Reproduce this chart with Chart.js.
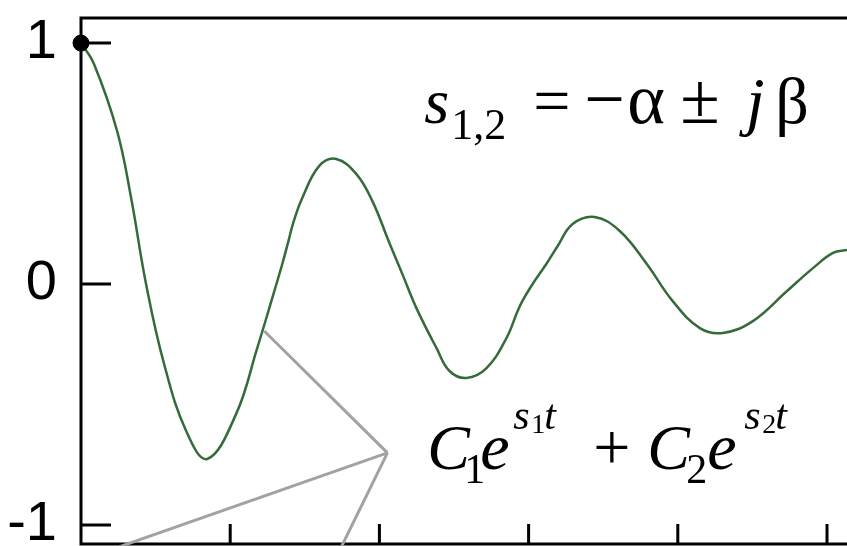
<!DOCTYPE html>
<html>
<head>
<meta charset="utf-8">
<script src="https://cdn.jsdelivr.net/npm/chart.js@4"></script>
<style>
  html, body { margin: 0; padding: 0; background: #fff; overflow: hidden; }
  canvas { display: block; }
</style>
</head>
<body>
<canvas id="c" width="847" height="546"></canvas>
<script>
// Underdamped response: one damped cosine, plus the grey leader lines
// that point from the curve to the C1e^{s1t}+C2e^{s2t} label (and on down out of frame).
const curveT = [0, 0.087, 0.242, 0.336, 0.436, 0.557, 0.705, 0.846, 1.040, 1.181, 1.262, 1.349,
  1.389, 1.423, 1.483, 1.597, 1.711, 1.846, 1.953, 2.067, 2.154, 2.248, 2.383, 2.470, 2.584, 2.718,
  2.852, 2.940, 3.027, 3.121, 3.195, 3.295, 3.443, 3.611, 3.792, 3.966, 4.148, 4.302, 4.503, 4.732,
  4.906, 5.040, 5.134];
const curveY = [1.0, 0.913, 0.635, 0.357, 0.0, -0.332, -0.610, -0.726, -0.539, -0.266, -0.100, 0.083,
  0.175, 0.255, 0.357, 0.490, 0.519, 0.456, 0.344, 0.170, 0.041, -0.100, -0.266, -0.361, -0.390, -0.349,
  -0.224, -0.093, 0.0, 0.085, 0.158, 0.249, 0.278, 0.220, 0.083, -0.071, -0.183, -0.203, -0.154, -0.029,
  0.066, 0.129, 0.141];

const yTicks = [-1, 0, 1];
const xTicks = [1, 2, 3, 4, 5];

// leader lines, each a pair of (t, y) ends
const leaderT = [[1.228, 2.054], [2.054, 0.255], [2.054, 1.745]];
const leaderY = [[-0.195, -0.701], [-0.701, -1.091], [-0.701, -1.091]];

const startPoint = { x: 0, y: 1 };

// annotation anchors in data space (left end of the text, on its baseline)
const rootsAt = { x: 2.30, y: 0.668 };
const sumAt = { x: 2.32, y: -0.768 };

const GREEN = "#356b3b";
const GREY = "#a2a2a2";
const SERIF = "'Liberation Serif', 'Times New Roman', serif";

// [text, italic, size, dx, dy] relative to the anchor pixel
const rootsText = [
  ["s", true, 64, 0, 0], ["1,2", false, 44, 27, 16], ["=", false, 66, 109, 0],
  ["\u2212", false, 72, 160, 0], ["\u03b1", false, 72, 203, 0], ["\u00b1", false, 72, 256, 0],
  ["j", true, 66, 322, 0], ["\u03b2", false, 66, 351, 0],
];
const sumText = [
  ["C", true, 64, 0, 0], ["1", false, 42, 37, 14], ["e", true, 66, 53, 0],
  ["s", true, 42, 86, -40], ["1", false, 28, 104, -36], ["t", true, 42, 117, -40],
  ["+", false, 66, 166, 0], ["C", true, 64, 220, 0], ["2", false, 42, 259, 14],
  ["e", true, 66, 280, 0], ["s", true, 42, 317, -40], ["2", false, 28, 335, -36],
  ["t", true, 42, 348, -40],
];

const frame = {
  id: "frame",
  beforeDatasetsDraw(chart) {
    const { ctx, chartArea: a, scales: { x, y } } = chart;
    ctx.save();
    ctx.strokeStyle = "#000";
    ctx.lineWidth = 3;
    ctx.beginPath();
    ctx.moveTo(a.right + 5, a.top); ctx.lineTo(a.left, a.top);
    ctx.lineTo(a.left, a.bottom); ctx.lineTo(a.right + 5, a.bottom);
    yTicks.forEach(v => { const p = y.getPixelForValue(v); ctx.moveTo(a.left, p); ctx.lineTo(a.left + 30, p); });
    xTicks.forEach(v => { const p = x.getPixelForValue(v); ctx.moveTo(p, a.bottom); ctx.lineTo(p, a.bottom - 20); });
    ctx.stroke();
    ctx.restore();
  },
  afterDraw(chart) {
    const { ctx, scales: { x, y } } = chart;
    const put = (parts, at) => {
      const px = x.getPixelForValue(at.x), py = y.getPixelForValue(at.y);
      ctx.save();
      ctx.fillStyle = "#000";
      ctx.textBaseline = "alphabetic";
      parts.forEach(([t, it, sz, dx, dy]) => {
        ctx.font = (it ? "italic " : "") + sz + "px " + SERIF;
        ctx.fillText(t, px + dx, py + dy);
      });
      ctx.restore();
    };
    put(rootsText, rootsAt);
    put(sumText, sumAt);
  },
};

const leaders = leaderT.map((ts, i) => ({
  data: ts.map((t, k) => ({ x: t, y: leaderY[i][k] })),
  borderColor: GREY, borderWidth: 3, pointRadius: 0, clip: false, order: 0,
}));

new Chart(document.getElementById("c"), {
  type: "line",
  data: {
    datasets: [
      {
        data: curveT.map((t, i) => ({ x: t, y: curveY[i] })),
        borderColor: GREEN, borderWidth: 2.5, pointRadius: 0, tension: 0.4, order: 2,
      },
      ...leaders,
      {
        data: [startPoint], showLine: false, pointRadius: 8,
        pointBackgroundColor: "#000", pointBorderColor: "#000", clip: false, order: -1,
      },
    ],
  },
  options: {
    responsive: false, animation: false,
    layout: { autoPadding: false, padding: { top: 18, right: 0, bottom: 2, left: 0 } },
    plugins: { legend: { display: false }, tooltip: { enabled: false } },
    scales: {
      x: { type: "linear", min: 0, max: 5.134, display: false },
      y: {
        min: -1.079, max: 1.104,
        grid: { display: false, drawTicks: false },
        border: { display: false },
        afterBuildTicks: s => { s.ticks = yTicks.map(v => ({ value: v })); },
        afterFit: s => {
          s.width = 81;
          s.paddingTop = 0; s.paddingBottom = 0; s.paddingLeft = 0; s.paddingRight = 0;
        },
        ticks: {
          color: "#000", padding: 24,
          font: { family: "'Liberation Sans', Arial, sans-serif", size: 56 },
          callback: v => String(v),
        },
      },
    },
  },
  plugins: [frame],
});
</script>
</body>
</html>
